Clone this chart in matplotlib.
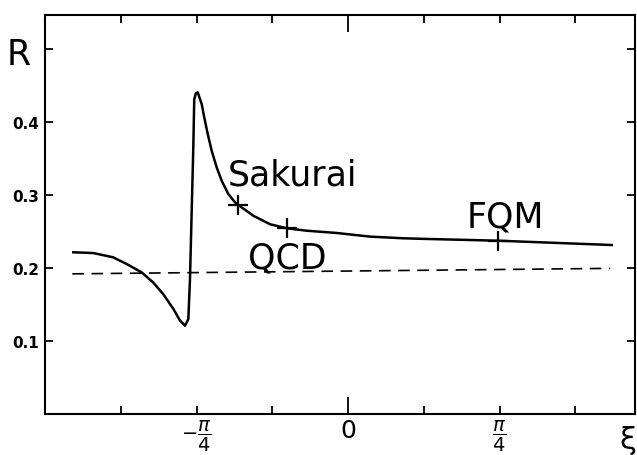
import matplotlib
matplotlib.use("Agg")
import matplotlib.pyplot as plt

# xi in units of pi/4, R
xi = [-1.813, -1.681, -1.551, -1.461, -1.362, -1.285, -1.219, -1.153, -1.109,
      -1.076, -1.054, -1.043, -1.032, -1.021, -1.015, -1.005, -0.992, -0.966,
      -0.949, -0.926, -0.900, -0.867, -0.834, -0.790, -0.746, -0.724, -0.625,
      -0.515, -0.405, -0.273, -0.075, 0.145, 0.365, 0.541, 0.992, 1.741]
R = [0.2215, 0.2205, 0.2147, 0.2055, 0.194, 0.180, 0.164, 0.144, 0.128,
     0.121, 0.130, 0.185, 0.277, 0.367, 0.431, 0.439, 0.4407, 0.4247,
     0.4064, 0.3836, 0.3607, 0.3379, 0.3196, 0.3014, 0.290, 0.2863, 0.2716,
     0.260, 0.2544, 0.2511, 0.248, 0.243, 0.2407, 0.2397, 0.2374, 0.2315]

# dashed reference line
dash_xi = [-1.82, 1.73]
dash_R = [0.192, 0.1995]

# marked models
models = ["Sakurai", "QCD", "FQM"]
model_xi = [-0.724, -0.405, 0.992]
model_R = [0.2863, 0.2544, 0.2374]

xticks = [-1.5, -1.0, -0.5, 0.0, 0.5, 1.0, 1.5]
xlabels = ["", r"$-\dfrac{\pi}{4}$", "", "0", "", r"$\dfrac{\pi}{4}$", ""]
yticks = [0.1, 0.2, 0.3, 0.4, 0.5]
ylabels = ["0.1", "0.2", "0.3", "0.4", ""]

fig = plt.figure(figsize=(6.37, 4.56), dpi=100)
ax = fig.add_axes([45 / 637, 41 / 456, 590 / 637, 399 / 456])

ax.plot(xi, R, color="black", lw=1.8, solid_joinstyle="round")
ax.plot(dash_xi, dash_R, color="black", lw=1.2, dashes=(7, 4.5))
ax.plot(model_xi, model_R, ls="none", marker="+", ms=15, mew=1.6, color="black")

# labels next to the crosses
lab = dict(fontsize=25, ha="left", va="baseline")
ax.text(-0.792, 0.315, models[0], **lab)
ax.text(-0.66, 0.201, models[1], **lab)
ax.text(0.785, 0.2575, models[2], **lab)

ax.set_xlim(-2.0, 1.894)
ax.set_ylim(0, 0.5466)

ax.set_xticks(xticks)
ax.set_xticklabels(xlabels, fontsize=14)
ax.get_xticklabels()[3].set_fontsize(18)
ax.set_yticks(yticks)
ax.set_yticklabels(ylabels, fontsize=11, fontweight="bold")
ax.tick_params(direction="in", length=6, width=1.3, top=True, right=True, pad=4)
ax.tick_params(axis="x", pad=3)

# longer tick at xi = 0
t0 = ax.xaxis.get_major_ticks()[3]
t0.tick1line.set_markersize(12)
t0.tick2line.set_markersize(12)

for s in ax.spines.values():
    s.set_linewidth(1.5)

fig.text(19 / 637, 1 - 55 / 456, "R", fontsize=25, ha="center", va="center")
fig.text(636 / 637, 1 - 441 / 456, "ξ", fontsize=22, ha="right", va="center")

fig.savefig("out.png", dpi=100)
